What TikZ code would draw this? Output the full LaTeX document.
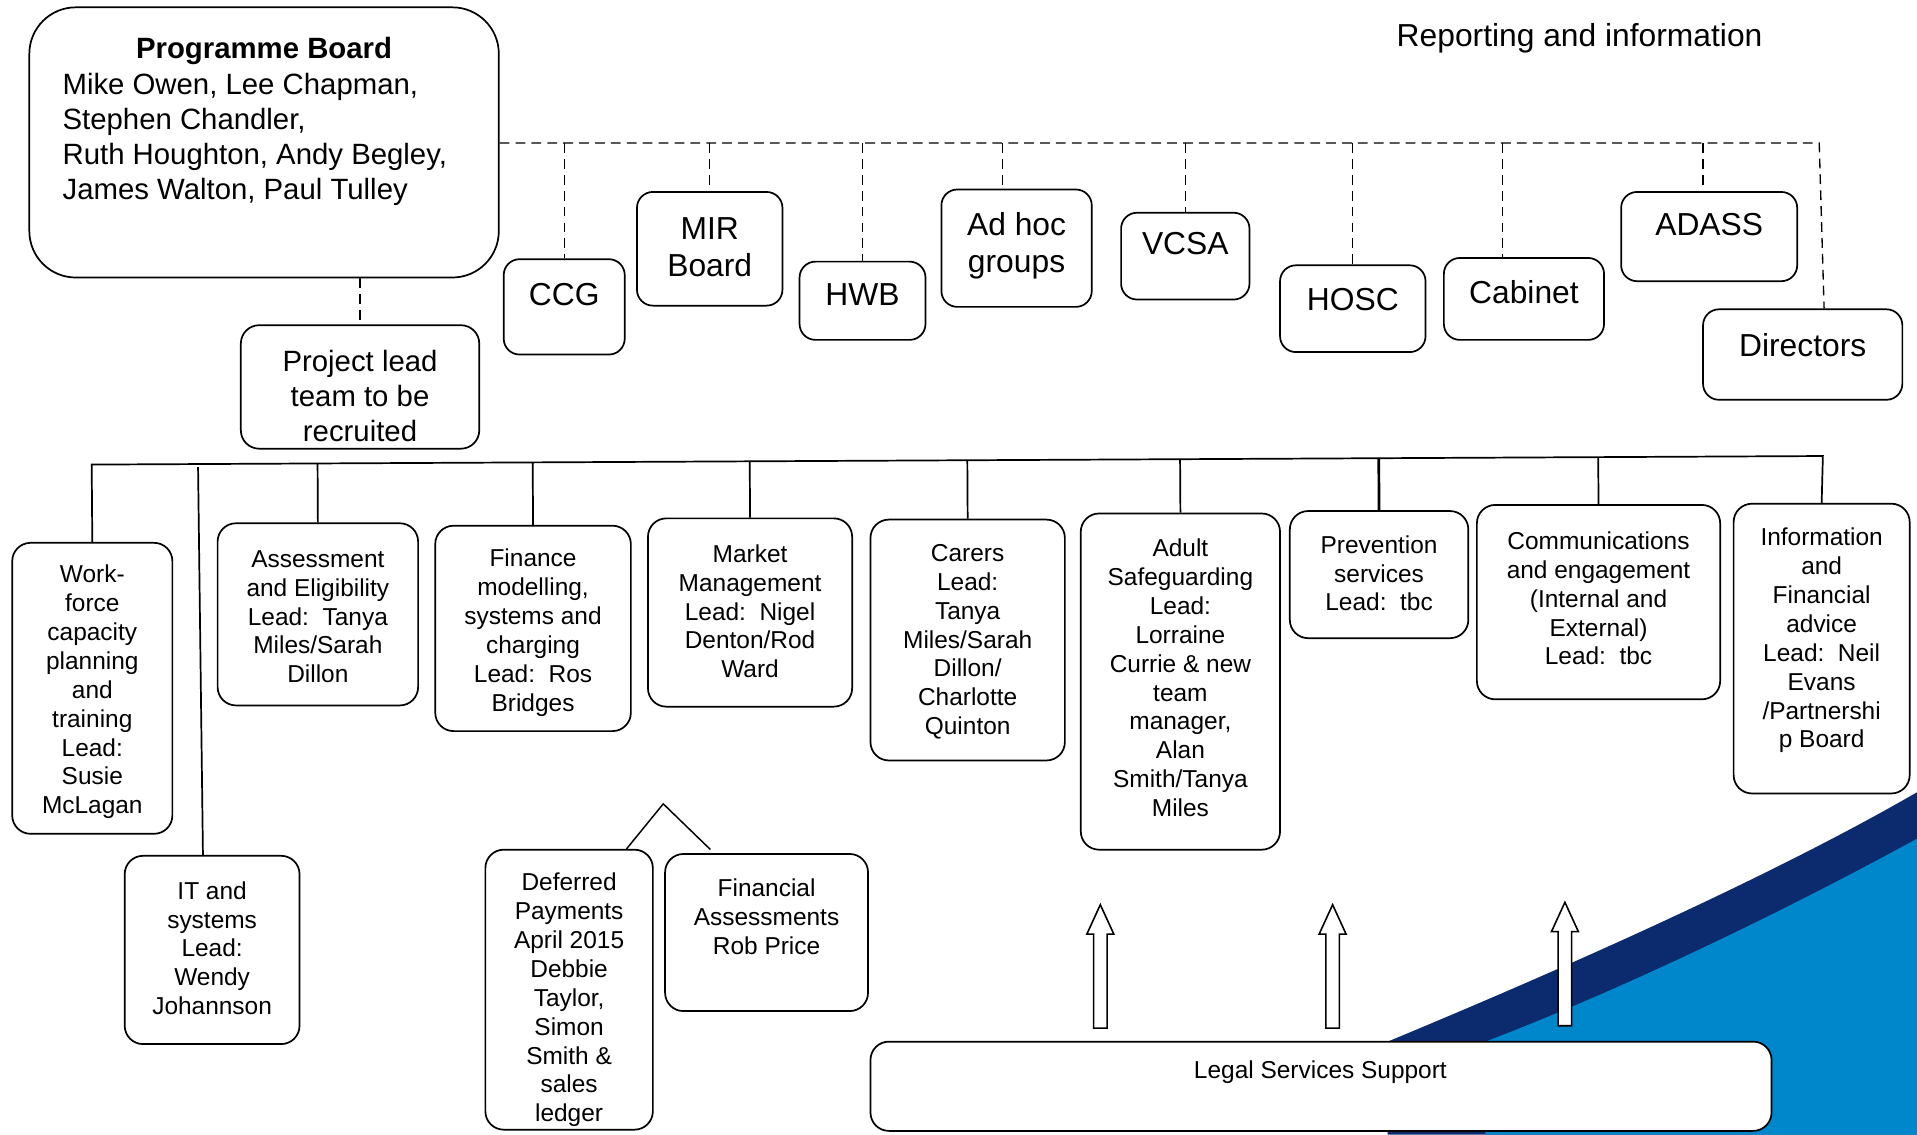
\documentclass[tikz,border=0pt]{standalone}
\usepackage{fontspec}
\setmainfont{Liberation Sans}
\usetikzlibrary{fit,calc}
\definecolor{navy}{RGB}{12,43,110}
\definecolor{skyb}{RGB}{0,134,202}
\begin{document}
\begin{tikzpicture}[x=1pt,y=-1pt,
  bx/.style={draw, line width=1.4pt, rounded corners=15pt, inner sep=0pt, fill=white},
  bigbx/.style={bx, rounded corners=38pt},
  topbx/.style={bx, rounded corners=13pt},
  st/.style={inner sep=0pt, align=center, font=\fontsize{20}{23.6}\selectfont},
  tt/.style={inner sep=0pt, align=center, font=\fontsize{26}{30.5}\selectfont},
  bt/.style={inner sep=0pt, align=center, font=\fontsize{24}{28.7}\selectfont},
  dsh/.style={line width=1.1pt, dash pattern=on 8pt off 5pt},
  sol/.style={line width=1.4pt},
  hollow/.style={draw, line width=1.3pt, fill=white, line join=miter}
]
\useasboundingbox (0,0) rectangle (1568,928);

% background swoosh
\fill[navy] (1135,852) .. controls (1260,800) and (1440,722) .. (1568,648) -- (1568,928) -- (1135,928) -- cycle;
\fill[skyb] (1215,852) .. controls (1330,808) and (1460,745) .. (1568,686) -- (1568,928) -- (1215,928) -- cycle;

% title
\node[tt] (rep) at (1292,31) {Reporting and information};

% programme board
\node[bigbx, fit={(24,6) (408,227)}] (pb) {};
\node[bt, font=\fontsize{24}{28.7}\selectfont\bfseries] (pb-t) at (216,42) {Programme Board};
\node[bt, align=left, anchor=west] (pb-n) at (51,114) {Mike Owen, Lee Chapman,\\Stephen Chandler,\\Ruth Houghton, Andy Begley,\\James Walton, Paul Tulley};

% project lead
\node[bx, fit={(197,266) (392,367)}] (pl) {};
\node[bt] (pl-t) at (294.5,324) {Project lead\\team to be\\recruited};

% top row
\node[topbx, fit={(412,212) (511,290)}] (ccg) {};
\node[tt] (ccg-t) at (461.5,241) {CCG};
\node[topbx, fit={(521,157) (640,250)}] (mir) {};
\node[tt] (mir-t) at (580.5,202) {MIR\\Board};
\node[topbx, fit={(654,214) (757,278)}] (hwb) {};
\node[tt] (hwb-t) at (705.5,241) {HWB};
\node[topbx, fit={(770,155) (893,251)}] (adhoc) {};
\node[tt] (adhoc-t) at (831.5,201) {Ad hoc\\groups};
\node[topbx, fit={(917,174) (1022,245)}] (vcsa) {};
\node[tt] (vcsa-t) at (969.5,199) {VCSA};
\node[topbx, fit={(1047,217) (1166,288)}] (hosc) {};
\node[tt] (hosc-t) at (1106.5,245) {HOSC};
\node[topbx, fit={(1181,211) (1312,278)}] (cab) {};
\node[tt] (cab-t) at (1246.5,239) {Cabinet};
\node[topbx, fit={(1326,157) (1470,230)}] (adass) {};
\node[tt] (adass-t) at (1398,184) {ADASS};
\node[topbx, fit={(1393,253) (1556,327)}] (dir) {};
\node[tt] (dir-t) at (1474.5,282) {Directors};

% dashed reporting lines
\coordinate (dj) at (1488,117);
\draw[dsh] (pb.east |- dj) -- (dj) -- ($(dir.north)+(17.5,0)$);
\foreach \n in {ccg,mir,hwb,vcsa,hosc} \draw[dsh] (\n.north |- dj) -- (\n.north);
\coordinate (ahT) at ($(adhoc.north)+(-11.5,0)$);
\coordinate (cbT) at ($(cab.north)+(-17.5,0)$);
\coordinate (adT) at ($(adass.north)+(-5,0)$);
\foreach \n in {ahT,cbT,adT} \draw[dsh] (\n |- dj) -- (\n);
\draw[dsh] (pl.north |- pb.south) -- (pl.north);

% workstream boxes
\node[bx, fit={(10,444) (141,682)}] (wf) {};
\node[st] (wf-t) at (75.5,566) {Work-\\force\\capacity\\planning\\and\\training\\Lead:\\Susie\\McLagan};
\node[bx, fit={(102,700) (245,854)}] (it) {};
\node[st] (it-t) at (173.5,775.5) {IT and\\systems\\Lead:\\Wendy\\Johannson};
\node[bx, fit={(178,428) (342,577)}] (ae) {};
\node[st] (ae-t) at (260,504.5) {Assessment\\and Eligibility\\Lead:~~Tanya\\Miles/Sarah\\Dillon};
\node[bx, fit={(356,430) (516,598)}] (fm) {};
\node[st] (fm-t) at (436,517.5) {Finance\\modelling,\\systems and\\charging\\Lead:~~Ros\\Bridges};
\node[bx, fit={(530,424) (697,578)}] (mm) {};
\node[st] (mm-t) at (613.5,500) {Market\\Management\\Lead:~~Nigel\\Denton/Rod\\Ward};
\node[bx, fit={(712,425) (871,622)}] (car) {};
\node[st] (car-t) at (791.5,525) {Carers\\Lead:\\Tanya\\Miles/Sarah\\Dillon/\\Charlotte\\Quinton};
\node[bx, fit={(884,420) (1047,695)}] (asg) {};
\node[st] (asg-t) at (965.5,554.5) {Adult\\Safeguarding\\Lead:\\Lorraine\\Currie \& new\\team\\manager,\\Alan\\Smith/Tanya\\Miles};
\node[bx, fit={(1055,418) (1201,522)}] (prev) {};
\node[st] (prev-t) at (1128,469) {Prevention\\services\\Lead:~~tbc};
\node[bx, fit={(1208,413) (1407,572)}] (com) {};
\node[st] (com-t) at (1307.5,489.5) {Communications\\and engagement\\(Internal and\\External)\\Lead:~~tbc};
\node[bx, fit={(1418,412) (1562,649)}] (info) {};
\node[st] (info-t) at (1490,524) {Information\\and\\Financial\\advice\\Lead:~~Neil\\Evans\\/Partnershi\\p Board};
\node[bx, fit={(397,695) (534,924)}] (dp) {};
\node[st] (dp-t) at (465.5,818) {Deferred\\Payments\\April 2015\\Debbie\\Taylor,\\Simon\\Smith \&\\sales\\ledger};
\node[bx, fit={(544,698.5) (710,827)}] (fa) {};
\node[st] (fa-t) at (627,750) {Financial\\Assessments\\Rob Price};

% solid structure lines
\coordinate (tl) at (75,380);
\coordinate (tr) at (1491,373);
\draw[sol] (wf.north) -- (tl) -- (tr) -- (info.north);
\foreach \n in {ae,fm,mm,car,asg,com} \draw[sol] ($(tl)!(\n.north)!(tr)$) -- (\n.north);
\draw[sol, line width=2.2pt] ($(tl)!(prev.north)!(tr)$) -- (prev.north);
\coordinate (itT) at (162,382);
\draw[sol] (itT) -- ($(it.north)+(-7.5,0)$);
\coordinate (apex) at (542.5,657.5);
\draw[sol, line width=1.2pt] ($(dp.north)+(47,0)$) -- (apex) -- ($(fa.north)+(-46,-3)$);

% hollow arrows
\foreach \ax/\at in {900/740,1090/740,1280/738}
  \draw[hollow] (\ax,\at) -- ++(11,24) -- ++(-5.5,0) -- ++(0,77) -- ++(-11,0) -- ++(0,-77) -- ++(-5.5,0) -- cycle;

% legal services
\node[bx, fit={(712,852) (1449,925)}] (legal) {};
\node[st] (legal-t) at (1080,877) {Legal Services Support};
\end{tikzpicture}
\end{document}
